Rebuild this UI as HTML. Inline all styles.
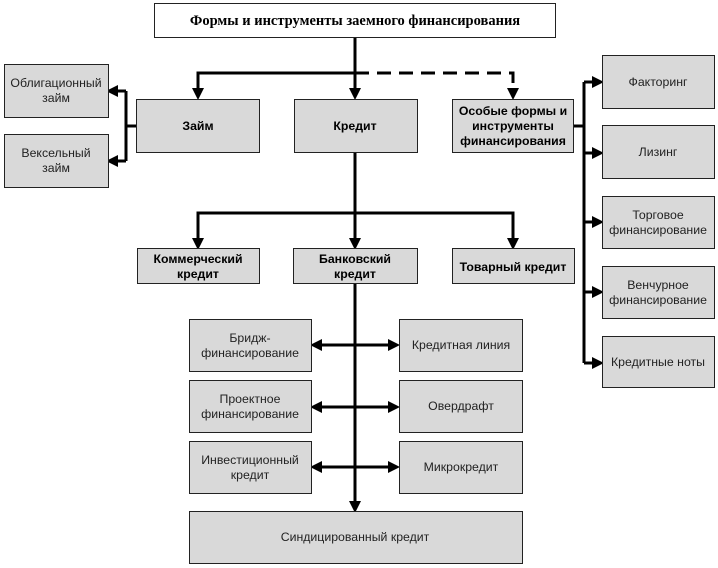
<!DOCTYPE html>
<html><head><meta charset="utf-8"><style>
body{margin:0;background:#fff;}
svg{display:block;}
text{font-family:"Liberation Sans",sans-serif;font-size:12.3px;fill:#222;text-anchor:middle;}
.b{font-weight:bold;fill:#000;}
.box{fill:#d9d9d9;stroke:#222;stroke-width:1;}
.ln{stroke:#000;stroke-width:3;fill:none;}
</style></head><body>
<svg width="718" height="568" viewBox="0 0 718 568">
<defs>
<marker id="a" markerWidth="4" markerHeight="4" refX="3" refY="2" orient="auto" markerUnits="strokeWidth"><path d="M0,0 L4,2 L0,4 z" fill="#000"/></marker>
<marker id="s" markerWidth="4" markerHeight="4" refX="1" refY="2" orient="auto" markerUnits="strokeWidth"><path d="M4,0 L0,2 L4,4 z" fill="#000"/></marker>
</defs>
<path class="ln" d="M355,37 V73 H198 V97" marker-end="url(#a)"/>
<path class="ln" d="M355,73 V97" marker-end="url(#a)"/>
<path class="ln" d="M355,73 H513 V97" stroke-dasharray="14,8" marker-end="url(#a)"/>
<path class="ln" d="M136,126 H126"/>
<path class="ln" d="M126,91 V161"/>
<path class="ln" d="M126,91 H109" marker-end="url(#a)"/>
<path class="ln" d="M126,161 H109" marker-end="url(#a)"/>
<path class="ln" d="M574,126 H584"/>
<path class="ln" d="M584,82 V363"/>
<path class="ln" d="M584,82 H601" marker-end="url(#a)"/>
<path class="ln" d="M584,153 H601" marker-end="url(#a)"/>
<path class="ln" d="M584,222 H601" marker-end="url(#a)"/>
<path class="ln" d="M584,292 H601" marker-end="url(#a)"/>
<path class="ln" d="M584,363 H601" marker-end="url(#a)"/>
<path class="ln" d="M355,152 V213 H198 V247" marker-end="url(#a)"/>
<path class="ln" d="M355,213 V247" marker-end="url(#a)"/>
<path class="ln" d="M355,213 H513 V247" marker-end="url(#a)"/>
<path class="ln" d="M355,284 V510" marker-end="url(#a)"/>
<path class="ln" d="M313,345 H397" marker-start="url(#s)" marker-end="url(#a)"/>
<path class="ln" d="M313,407 H397" marker-start="url(#s)" marker-end="url(#a)"/>
<path class="ln" d="M313,467 H397" marker-start="url(#s)" marker-end="url(#a)"/>
<rect x="154.5" y="3.5" width="401" height="34" fill="#fff" stroke="#222"/>
<text x="355" y="25" class="b" style="font-family:'Liberation Serif',serif;font-size:14.5px">Формы и инструменты заемного финансирования</text>
<rect class="box" x="4.5" y="64.5" width="104" height="53"/>
<text x="56" y="87">Облигационный</text><text x="56" y="102">займ</text>
<rect class="box" x="4.5" y="134.5" width="104" height="53"/>
<text x="56" y="157">Вексельный</text><text x="56" y="172">займ</text>
<rect class="box" x="136.5" y="99.5" width="123" height="53"/>
<text x="198" y="130" class="b">Займ</text>
<rect class="box" x="294.5" y="99.5" width="123" height="53"/>
<text x="355" y="130" class="b">Кредит</text>
<rect class="box" x="452.5" y="99.5" width="121" height="53"/>
<text x="513" y="115" class="b">Особые формы и</text><text x="513" y="130" class="b">инструменты</text><text x="513" y="145" class="b">финансирования</text>
<rect class="box" x="602.5" y="55.5" width="112" height="53"/>
<text x="658" y="86">Факторинг</text>
<rect class="box" x="602.5" y="125.5" width="112" height="53"/>
<text x="658" y="156">Лизинг</text>
<rect class="box" x="602.5" y="196.5" width="112" height="52"/>
<text x="658" y="219">Торговое</text><text x="658" y="234">финансирование</text>
<rect class="box" x="602.5" y="266.5" width="112" height="52"/>
<text x="658" y="289">Венчурное</text><text x="658" y="304">финансирование</text>
<rect class="box" x="602.5" y="336.5" width="112" height="51"/>
<text x="658" y="366">Кредитные ноты</text>
<rect class="box" x="137.5" y="248.5" width="122" height="35"/>
<text x="198" y="263" class="b">Коммерческий</text><text x="198" y="278" class="b">кредит</text>
<rect class="box" x="293.5" y="248.5" width="124" height="35"/>
<text x="355" y="263" class="b">Банковский</text><text x="355" y="278" class="b">кредит</text>
<rect class="box" x="452.5" y="248.5" width="122" height="35"/>
<text x="513" y="271" class="b">Товарный кредит</text>
<rect class="box" x="189.5" y="319.5" width="122" height="52"/>
<text x="250" y="342">Бридж-</text><text x="250" y="357">финансирование</text>
<rect class="box" x="399.5" y="319.5" width="123" height="52"/>
<text x="461" y="349">Кредитная линия</text>
<rect class="box" x="189.5" y="380.5" width="122" height="52"/>
<text x="250" y="403">Проектное</text><text x="250" y="418">финансирование</text>
<rect class="box" x="399.5" y="380.5" width="123" height="52"/>
<text x="461" y="410">Овердрафт</text>
<rect class="box" x="189.5" y="441.5" width="122" height="52"/>
<text x="250" y="464">Инвестиционный</text><text x="250" y="479">кредит</text>
<rect class="box" x="399.5" y="441.5" width="123" height="52"/>
<text x="461" y="471">Микрокредит</text>
<rect class="box" x="189.5" y="511.5" width="333" height="52"/>
<text x="355" y="541">Синдицированный кредит</text>
</svg>
</body></html>
